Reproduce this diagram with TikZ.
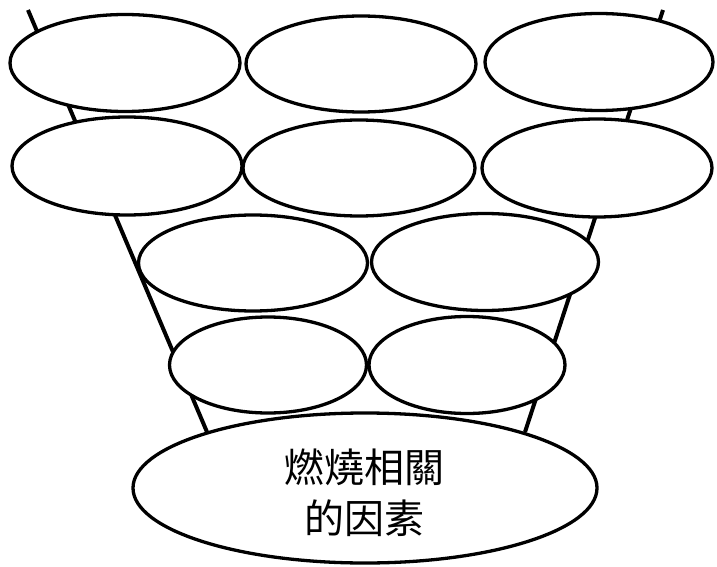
\documentclass[tikz,border=0pt]{standalone}
\usepackage{fontspec}
\newfontfamily\cjk{Noto Sans CJK TC}
\usetikzlibrary{shapes.geometric}
\begin{document}
\begin{tikzpicture}[x=1pt,y=-1pt,
  bubble/.style={ellipse,draw=black,fill=white,line width=3.3pt,inner sep=0pt,outer sep=0pt},
  funnel/.style={draw=black,line width=4pt}]
\useasboundingbox (0,0) rectangle (717,567);
\coordinate (lt) at (28,10);
\coordinate (lb) at (207,432);
\coordinate (rt) at (663,10);
\coordinate (rb) at (525,432);
\draw[funnel] (lt) -- (lb);
\draw[funnel] (rt) -- (rb);
\node[bubble,minimum width=230pt,minimum height=97pt] (r1a) at (125,63) {};
\node[bubble,minimum width=230pt,minimum height=96pt] (r1b) at (361,64) {};
\node[bubble,minimum width=228pt,minimum height=97pt] (r1c) at (599,62) {};
\node[bubble,minimum width=230pt,minimum height=98pt] (r2a) at (127,166) {};
\node[bubble,minimum width=232pt,minimum height=96pt] (r2b) at (359,168) {};
\node[bubble,minimum width=230pt,minimum height=98pt] (r2c) at (597,168) {};
\node[bubble,minimum width=229pt,minimum height=96pt] (r3a) at (253,263) {};
\node[bubble,minimum width=227pt,minimum height=97pt] (r3b) at (485,262) {};
\node[bubble,minimum width=197pt,minimum height=96pt] (r4a) at (268,365) {};
\node[bubble,minimum width=196pt,minimum height=97pt] (r4b) at (467,365) {};
\node[bubble,minimum width=464pt,minimum height=150pt] (base) at (365,488) {};
\node[align=center,font=\cjk\fontsize{40}{51}\selectfont,inner sep=0pt] (txt) at (364,493) {燃燒相關\\的因素};
\end{tikzpicture}
\end{document}
